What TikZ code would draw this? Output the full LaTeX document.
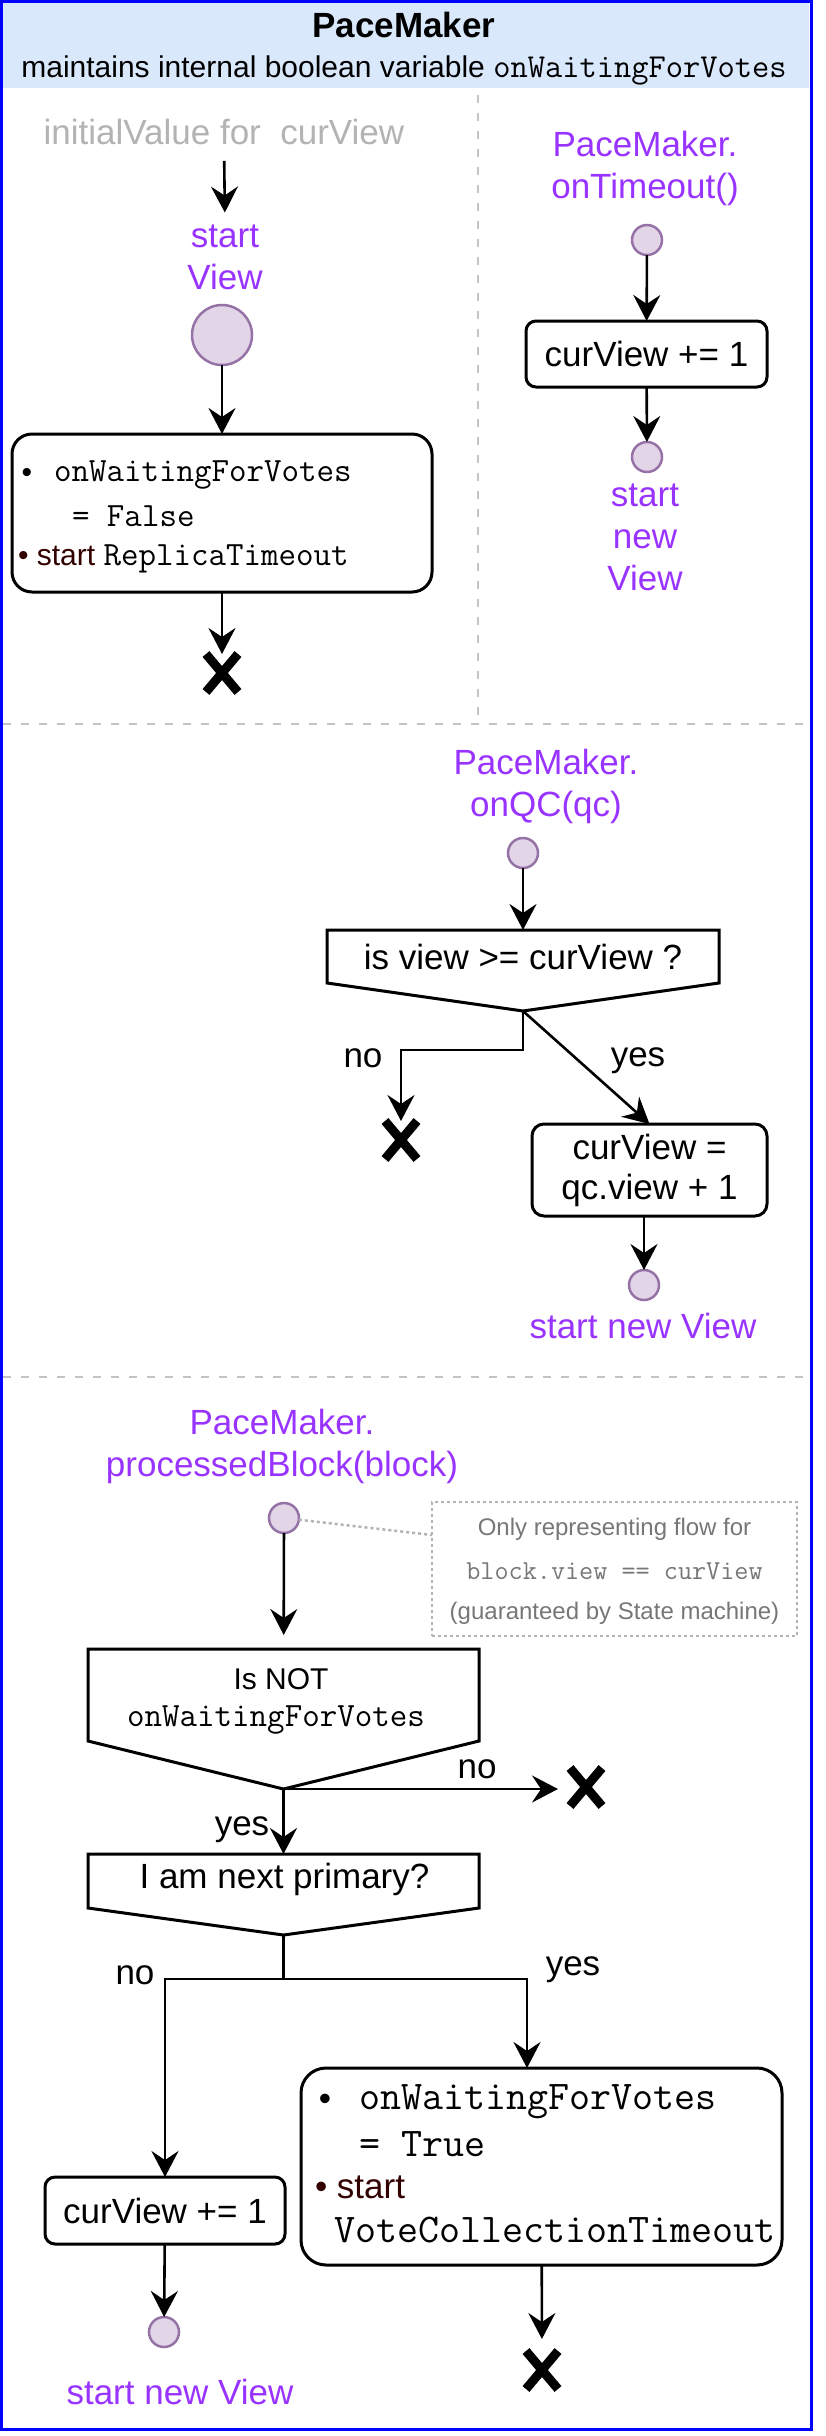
\documentclass[tikz,border=0pt]{standalone}
\usepackage{fontspec}
\setmainfont{Liberation Sans}
\usetikzlibrary{arrows.meta,calc}
\definecolor{bordblue}{HTML}{0000FF}
\definecolor{hdrfill}{HTML}{DAE8FC}
\definecolor{purp}{HTML}{9933FF}
\definecolor{cfill}{HTML}{E1D5E7}
\definecolor{cdraw}{HTML}{9673A6}
\definecolor{lgray}{HTML}{B3B3B3}
\definecolor{divgray}{HTML}{C4C4C4}
\definecolor{dred}{HTML}{330000}
\definecolor{notegray}{HTML}{777777}
\newcommand\fA{\fontsize{35}{42}\selectfont}
\newcommand\fAt{\fontsize{35}{40}\selectfont}
\newcommand\fB{\fontsize{30}{36}\selectfont}
\newcommand\fC{\fontsize{24}{29}\selectfont}
\newcommand\mA{\fontsize{34}{40}\selectfont\ttfamily}
\newcommand\mS{\fontsize{33.5}{40}\selectfont\ttfamily}
\newcommand\mB{\fontsize{40.8}{46}\selectfont\ttfamily}
\newcommand\mC{\fontsize{27.4}{32}\selectfont\ttfamily}
\begin{document}
\begin{tikzpicture}[x=1pt,y=-1pt,
  every node/.style={inner sep=0pt, outer sep=0pt},
  lbl/.style={font=\fA},
  ptxt/.style={font=\fA, text=purp, align=center},
  rbox/.style={draw, line width=3pt, rounded corners=#1},
  rbox/.default=10pt,
  dot/.style={circle, fill=cfill, draw=cdraw, line width=2.5pt, minimum size=30pt},
  flow/.style={draw, line width=2.6pt, -{Stealth[length=26pt,width=27pt,inset=9pt]}},
  shp/.style={draw, line width=3pt, line join=miter},
  xmark/.style={minimum width=32pt, minimum height=38pt,
    append after command={(\tikzlastnode.north west) edge[line width=9pt] (\tikzlastnode.south east)
                          (\tikzlastnode.north east) edge[line width=9pt] (\tikzlastnode.south west)}},
  divider/.style={draw=divgray, line width=2.5pt, dash pattern=on 8pt off 10pt},
  notedot/.style={draw=lgray, line width=2.5pt, dash pattern=on 3pt off 3pt},
]
\useasboundingbox (0,0) rectangle (825,2436);
\fill[white] (0,0) rectangle (825,2436);

% header
\node[fill=hdrfill, minimum width=806pt, minimum height=85pt, anchor=north west] (hdr) at (3,3) {};
\node[font=\fA\bfseries] (title) at (404,25) {PaceMaker};
\node[font=\fB] (subtitle) at (404,70) {maintains internal boolean variable {\mS onWaitingForVotes}};

% dividers
\draw[divider] (478,95) -- (478,718);
\draw[divider] (3,724) -- (809,724);
\draw[divider] (3,1377) -- (809,1377);

% ---- section 1 left
\node[font=\fA, text=lgray] (init) at (224,132) {initialValue for\ \ curView};
\node[ptxt] (sv) at (225,257) {start\\View};
\node[dot, minimum size=60pt] (c0) at (222,335) {};
\node[rbox=20pt, minimum width=420pt, minimum height=158pt] (b1) at (222,513) {};
\node[font=\fB] (b1u) at (27,475) {\textbullet};
\node[font=\mA, anchor=west] (b1l1) at (54,475) {onWaitingForVotes};
\node[font=\mA, anchor=west] (b1l2) at (72,516) {= False};
\node[font=\fB, anchor=west] (b1l3) at (18,559) {\textcolor{dred}{\textbullet\ start} {\mA ReplicaTimeout}};
\node[xmark] (x0) at (222,673) {};
\draw[flow, shorten <=16pt, shorten >=12pt] (init.south) -- (sv.north);
\draw[flow] (c0) -- (b1);
\draw[flow] (b1) -- (x0);

% ---- section 1 right
\node[ptxt] (pm1) at (645,168) {PaceMaker.\\onTimeout()};
\node[dot] (c1) at (647,240) {};
\node[rbox=10pt, minimum width=241pt, minimum height=66pt, font=\fA] (b2) at (646.5,354) {curView += 1};
\node[dot] (c2) at (647,457) {};
\node[ptxt] (sn1) at (645,537) {start\\new\\View};
\draw[flow] (c1) -- (b2);
\draw[flow] (b2) -- (c2);

% ---- section 2
\node[ptxt] (pm2) at (546,786) {PaceMaker.\\onQC(qc)};
\node[dot] (c3) at (523,853) {};
\node[minimum width=392pt, minimum height=81pt] (d1) at (523,970.5) {};
\draw[shp] (d1.north west) -- (d1.north east) -- ([yshift=28pt]d1.south east) -- (d1.south) -- ([yshift=28pt]d1.south west) -- cycle;
\node[font=\fA] (d1t) at (523,957) {is view >= curView ?};
\node[xmark] (x1) at (401,1140) {};
\node[lbl] (no1) at (363,1058) {no};
\node[lbl] (yes1) at (638,1061) {yes};
\node[rbox=12pt, minimum width=235pt, minimum height=92pt, font=\fAt, align=center] (b3) at (649.5,1170) {curView =\\qc.view + 1};
\node[dot] (c4) at (644,1285) {};
\node[ptxt] (sn2) at (643,1326) {start new View};
\draw[flow] (c3) -- (d1);
\draw[flow] (d1.south) -- ++(0,39) -| (x1);
\draw[flow] (d1.south) -- (b3.north);
\draw[flow] (c4 |- b3.south) -- (c4);

% ---- section 3
\node[ptxt] (pm3) at (282,1446) {PaceMaker.\\processedBlock(block)};
\node[dot] (c5) at (284,1518) {};
\node[notedot, minimum width=365pt, minimum height=134pt] (note) at (614.5,1569) {};
\node[font=\fC, text=notegray] (n1) at (614.5,1529) {Only representing flow for};
\node[font=\mC, text=notegray] (n2) at (614.5,1571) {block.view == curView};
\node[font=\fC, text=notegray] (n3) at (614.5,1613) {(guaranteed by State machine)};
\draw[notedot] (c5) -- ([yshift=-33pt]note.north west);

\node[minimum width=391pt, minimum height=140pt] (d2) at (283.5,1719) {};
\draw[shp] (d2.north west) -- (d2.north east) -- ([yshift=48pt]d2.south east) -- (d2.south) -- ([yshift=48pt]d2.south west) -- cycle;
\node[font=\fB] (d2t1) at (281,1679) {Is NOT};
\node[font=\mA] (d2t2) at (276,1720) {onWaitingForVotes};
\draw[flow, shorten >=14pt] (c5) -- (d2);

\node[xmark] (x3) at (586,1787) {};
\node[lbl] (no3) at (477,1769) {no};
\draw[flow, shorten >=12pt] (d2.south) -- (d2.south -| x3.west);

\node[lbl] (yes3) at (242,1830) {yes};
\node[minimum width=391pt, minimum height=81pt] (d3) at (283.5,1894.5) {};
\draw[shp] (d3.north west) -- (d3.north east) -- ([yshift=27pt]d3.south east) -- (d3.south) -- ([yshift=27pt]d3.south west) -- cycle;
\node[font=\fA] (d3t) at (284.5,1879) {I am next primary?};
\draw[flow] (d2.south) -- (d3.north);

\node[lbl] (no4) at (135,1975) {no};
\node[lbl] (yes4) at (573,1970) {yes};
\node[rbox=10pt, minimum width=240pt, minimum height=67pt, font=\fA] (b4) at (165,2210.5) {curView += 1};
\node[dot] (c6) at (164,2332) {};
\node[ptxt] (sn3) at (180,2392) {start new View};
\node[rbox=25pt, minimum width=481pt, minimum height=197pt] (b5) at (541.5,2166.5) {};
\node[font=\fA] (b5u) at (325,2102) {\textbullet};
\node[font=\mB, anchor=west] (b5l1) at (359,2102) {onWaitingForVotes};
\node[font=\mB, anchor=west] (b5l2) at (359,2144) {= True};
\node[font=\fA, anchor=west] (b5l3) at (315,2187) {\textcolor{dred}{\textbullet\ start}};
\node[font=\mB, anchor=west] (b5l4) at (334,2230) {VoteCollectionTimeout};
\node[xmark] (x5) at (542,2370) {};
\draw[flow] (d3.south) -- ++(0,44) -| (b4.north);
\draw[flow] (d3.south) -- ++(0,44) -| ([xshift=-14.5pt]b5.north);
\draw[flow] (b4) -- (c6);
\draw[flow, shorten >=12pt] (b5) -- (x5);

% outer frame
\draw[bordblue, line width=3pt] (1.5,1.5) rectangle (811,2429.5);
\end{tikzpicture}
\end{document}
